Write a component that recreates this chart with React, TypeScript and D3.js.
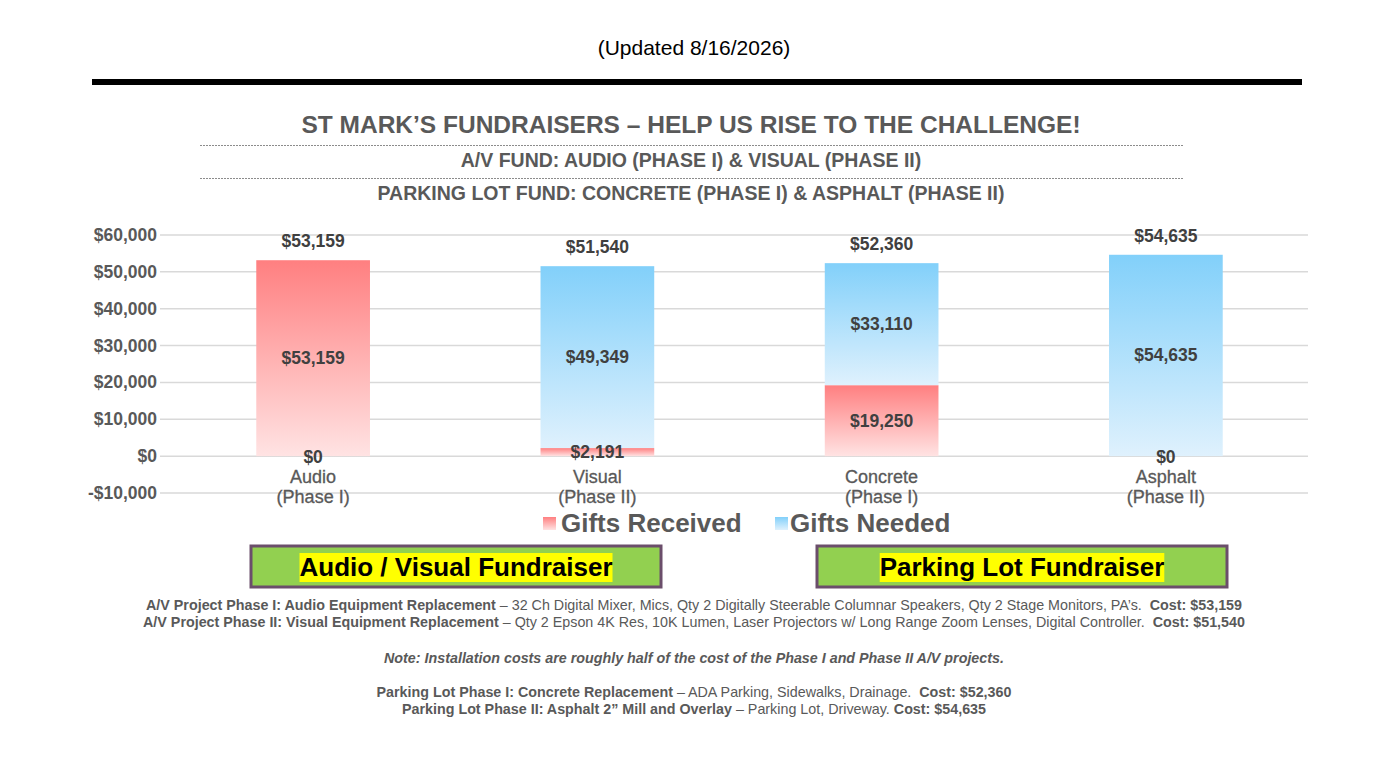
import React, { useLayoutEffect, useRef, useState } from "react";
import * as d3 from "d3";

const categories = ["Audio|(Phase I)", "Visual|(Phase II)", "Concrete|(Phase I)", "Asphalt|(Phase II)"];
const giftsReceived = [53159, 2191, 19250, 0];
const giftsNeeded = [0, 49349, 33110, 54635];
const yTicks = [-10000, 0, 10000, 20000, 30000, 40000, 50000, 60000];
const seriesNames = ["Gifts Received", "Gifts Needed"];

const W = 1394;
const H = 784;
const GRAY = "#595959";
const FONT = "Arial, 'Liberation Sans', Helvetica, sans-serif";

const fmt = (v: number) => (v < 0 ? "-$" : "$") + d3.format(",")(Math.abs(v));

function HighlightBox({ x, y, w, h, label }: { x: number; y: number; w: number; h: number; label: string }) {
  const ref = useRef<SVGTextElement>(null);
  const [bb, setBb] = useState<{ x: number; w: number } | null>(null);
  useLayoutEffect(() => {
    if (ref.current) {
      const b = ref.current.getBBox();
      setBb({ x: b.x, w: b.width });
    }
  }, []);
  return (
    <g>
      <rect x={x} y={y} width={w} height={h} fill="#92D050" stroke="#6B4E6B" strokeWidth={3} />
      {bb && <rect x={bb.x} y={y + 7} width={bb.w} height={h - 12} fill="#FFFF00" />}
      <text ref={ref} x={x + w / 2} y={y + h / 2 + 9} textAnchor="middle" fontSize={26} fontWeight="bold" fill="#000">
        {label}
      </text>
    </g>
  );
}

export default function App() {
  const x0 = 171, x1 = 1308;
  const x = d3.scaleBand<number>().domain(d3.range(categories.length)).range([x0, x1]).paddingInner(0.6).paddingOuter(0.3);
  const y = d3.scaleLinear().domain([-10000, 60000]).range([493, 235]);
  const bw = x.bandwidth();

  const segs: { i: number; s: number; y0: number; y1: number; v: number }[] = [];
  categories.forEach((_, i) => {
    segs.push({ i, s: 0, y0: 0, y1: giftsReceived[i], v: giftsReceived[i] });
    segs.push({ i, s: 1, y0: giftsReceived[i], y1: giftsReceived[i] + giftsNeeded[i], v: giftsNeeded[i] });
  });

  return (
    <svg width={W} height={H} style={{ display: "block", position: "absolute", left: 0, top: 0, background: "#fff" }} fontFamily={FONT}>
      <defs>
        <linearGradient id="gRed" x1="0" y1="0" x2="0" y2="1">
          <stop offset="0" stopColor="#FF7F80" />
          <stop offset="1" stopColor="#FFE3E3" />
        </linearGradient>
        <linearGradient id="gBlue" x1="0" y1="0" x2="0" y2="1">
          <stop offset="0" stopColor="#82D0FA" />
          <stop offset="1" stopColor="#DFF1FD" />
        </linearGradient>
      </defs>
      <rect width={W} height={H} fill="#fff" />
      <text x={694} y={55} textAnchor="middle" fontSize={21} fill="#000">(Updated 8/16/2026)</text>
      <rect x={92} y={79} width={1210} height={6} fill="#000" />

      <text x={691} y={133} textAnchor="middle" fontSize={24.5} fontWeight="bold" fill={GRAY}>
        ST MARK’S FUNDRAISERS – HELP US RISE TO THE CHALLENGE!
      </text>
      <line x1={200} x2={1183} y1={145.5} y2={145.5} stroke="#8c8c8c" strokeWidth={1} strokeDasharray="2,1" />
      <text x={691} y={167} textAnchor="middle" fontSize={19.5} fontWeight="bold" fill={GRAY}>
        A/V FUND: AUDIO (PHASE I) &amp; VISUAL (PHASE II)
      </text>
      <line x1={200} x2={1183} y1={178.5} y2={178.5} stroke="#8c8c8c" strokeWidth={1} strokeDasharray="2,1" />
      <text x={691} y={200} textAnchor="middle" fontSize={19.5} fontWeight="bold" fill={GRAY}>
        PARKING LOT FUND: CONCRETE (PHASE I) &amp; ASPHALT (PHASE II)
      </text>

      {/* gridlines & y ticks */}
      {yTicks.map((t) => (
        <g key={t}>
          <line x1={160} x2={1308} y1={y(t)} y2={y(t)} stroke="#D9D9D9" strokeWidth={1.5} />
          <text x={157} y={y(t) + 6} textAnchor="end" fontSize={17.5} fontWeight="bold" fill={GRAY}>{fmt(t)}</text>
        </g>
      ))}

      {/* bars */}
      {segs.map((d, k) => (
        <rect key={k} x={x(d.i)!} width={bw} y={y(d.y1)} height={Math.max(0, y(d.y0) - y(d.y1))}
          fill={d.s === 0 ? "url(#gRed)" : "url(#gBlue)"} />
      ))}

      {/* segment labels */}
      {segs.map((d, k) => {
        if (d.v === 0 && d.i === 2) return null;
        const cy = d.v === 0 ? y(0) + 1 : (y(d.y0) + y(d.y1)) / 2;
        return (
          <text key={"l" + k} x={x(d.i)! + bw / 2} y={cy + 6} textAnchor="middle" fontSize={17.5} fontWeight="bold" fill="#404040">
            {fmt(d.v)}
          </text>
        );
      })}

      {/* totals */}
      {categories.map((_, i) => {
        const tot = giftsReceived[i] + giftsNeeded[i];
        return (
          <text key={"t" + i} x={x(i)! + bw / 2} y={y(tot) - 13} textAnchor="middle" fontSize={17.5} fontWeight="bold" fill="#404040">
            {fmt(tot)}
          </text>
        );
      })}

      {/* category labels */}
      {categories.map((c, i) => {
        const [a, b] = c.split("|");
        return (
          <text key={"c" + i} x={x(i)! + bw / 2} textAnchor="middle" fontSize={18} fill={GRAY} stroke={GRAY} strokeWidth={0.3}>
            <tspan x={x(i)! + bw / 2} y={483}>{a}</tspan>
            <tspan x={x(i)! + bw / 2} y={503}>{b}</tspan>
          </text>
        );
      })}

      {/* legend */}
      <rect x={543} y={517} width={13} height={13} fill="url(#gRed)" />
      <text x={561} y={532} fontSize={26} fontWeight="bold" fill={GRAY}>{seriesNames[0]}</text>
      <rect x={775} y={517} width={13} height={13} fill="url(#gBlue)" />
      <text x={790} y={532} fontSize={26} fontWeight="bold" fill={GRAY}>{seriesNames[1]}</text>

      <HighlightBox x={251} y={546} w={410} h={41} label="Audio / Visual Fundraiser" />
      <HighlightBox x={817} y={546} w={410} h={41} label="Parking Lot Fundraiser" />

      <g fontSize={14.3} fill={GRAY} textAnchor="middle">
        <text x={694} y={610} xmlSpace="preserve">
          <tspan fontWeight="bold">A/V Project Phase I: Audio Equipment Replacement</tspan>
          <tspan>{" – 32 Ch Digital Mixer, Mics, Qty 2 Digitally Steerable Columnar Speakers, Qty 2 Stage Monitors, PA’s.\u00A0 "}</tspan>
          <tspan fontWeight="bold">Cost: $53,159</tspan>
        </text>
        <text x={694} y={627} xmlSpace="preserve">
          <tspan fontWeight="bold">A/V Project Phase II: Visual Equipment Replacement</tspan>
          <tspan>{" – Qty 2 Epson 4K Res, 10K Lumen, Laser Projectors w/ Long Range Zoom Lenses, Digital Controller.\u00A0 "}</tspan>
          <tspan fontWeight="bold">Cost: $51,540</tspan>
        </text>
        <text x={694} y={663} fontWeight="bold" fontStyle="italic">
          Note: Installation costs are roughly half of the cost of the Phase I and Phase II A/V projects.
        </text>
        <text x={694} y={697} xmlSpace="preserve">
          <tspan fontWeight="bold">Parking Lot Phase I: Concrete Replacement</tspan>
          <tspan>{" – ADA Parking, Sidewalks, Drainage.\u00A0 "}</tspan>
          <tspan fontWeight="bold">Cost: $52,360</tspan>
        </text>
        <text x={694} y={714} xmlSpace="preserve">
          <tspan fontWeight="bold">Parking Lot Phase II: Asphalt 2” Mill and Overlay</tspan>
          <tspan>{" – Parking Lot, Driveway. "}</tspan>
          <tspan fontWeight="bold">Cost: $54,635</tspan>
        </text>
      </g>
    </svg>
  );
}
